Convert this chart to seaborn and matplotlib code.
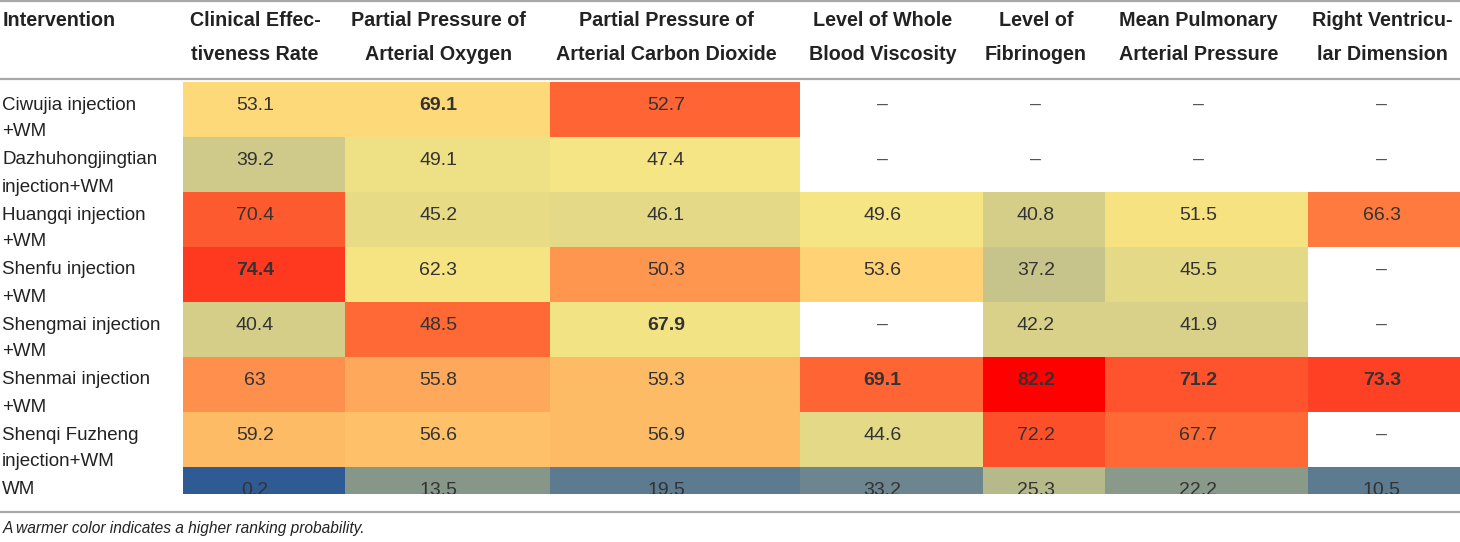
import numpy as np
import pandas as pd
import matplotlib
matplotlib.use("Agg")
import matplotlib.pyplot as plt
import seaborn as sns
from matplotlib.colors import LinearSegmentedColormap

nan = np.nan

# ---------------- data ----------------
interventions = [
    "Ciwujia injection\n+WM",
    "Dazhuhongjingtian\ninjection+WM",
    "Huangqi injection\n+WM",
    "Shenfu injection\n+WM",
    "Shengmai injection\n+WM",
    "Shenmai injection\n+WM",
    "Shenqi Fuzheng\ninjection+WM",
    "WM",
]
outcomes = [
    "Clinical Effec-\ntiveness Rate",
    "Partial Pressure of\nArterial Oxygen",
    "Partial Pressure of\nArterial Carbon Dioxide",
    "Level of Whole\nBlood Viscosity",
    "Level of\nFibrinogen",
    "Mean Pulmonary\nArterial Pressure",
    "Right Ventricu-\nlar Dimension",
]
clinical = [53.1, 39.2, 70.4, 74.4, 40.4, 63, 59.2, 0.2]
pao2 = [69.1, 49.1, 45.2, 62.3, 48.5, 55.8, 56.6, 13.5]
paco2 = [52.7, 47.4, 46.1, 50.3, 67.9, 59.3, 56.9, 19.5]
viscosity = [nan, nan, 49.6, 53.6, nan, 69.1, 44.6, 33.2]
fibrinogen = [nan, nan, 40.8, 37.2, 42.2, 82.2, 72.2, 25.3]
mpap = [nan, nan, 51.5, 45.5, 41.9, 71.2, 67.7, 22.2]
rvd = [nan, nan, 66.3, nan, nan, 73.3, nan, 10.5]

# colour warmth of each cell (0 = coolest, 100 = warmest)
warm_clinical = [62, 44, 89, 94, 46, 79, 70, 0]
warm_pao2 = [62, 53, 51, 56, 86, 74, 69, 25]
warm_paco2 = [87, 55, 50, 78, 54, 70, 70, 15]
warm_viscosity = [nan, nan, 55, 64, nan, 87, 50, 19]
warm_fibrinogen = [nan, nan, 46, 41, 47, 100, 91, 35]
warm_mpap = [nan, nan, 57, 50, 47, 90, 86, 26]
warm_rvd = [nan, nan, 83, nan, nan, 93, nan, 15]

caption = "A warmer color indicates a higher ranking probability."

values = pd.DataFrame(dict(zip(outcomes, [clinical, pao2, paco2, viscosity, fibrinogen, mpap, rvd])),
                      index=interventions)
warmth = pd.DataFrame(dict(zip(outcomes, [warm_clinical, warm_pao2, warm_paco2, warm_viscosity,
                                          warm_fibrinogen, warm_mpap, warm_rvd])),
                      index=interventions)

# ---------------- style ----------------
sns.set_theme(style="white")
plt.rcParams["font.family"] = ["Liberation Sans", "DejaVu Sans"]

cmap = LinearSegmentedColormap.from_list("warm", [
    (0.00, "#2f5b94"),
    (0.15, "#5c7a90"),
    (0.25, "#86978a"),
    (0.35, "#b6b98a"),
    (0.45, "#d2cc8a"),
    (0.55, "#f5e584"),
    (0.62, "#fed97a"),
    (0.70, "#febc66"),
    (0.78, "#fe9650"),
    (0.86, "#fe6a36"),
    (0.93, "#fe4426"),
    (1.00, "#ff0000"),
])

W, H = 1460, 542
fig = plt.figure(figsize=(W / 100, H / 100), dpi=100)

col_edges = [183, 345, 550, 800, 983, 1105, 1308, 1460]
text_shift = [9, 9, 9, 9, 8, 8, 2]  # text sits slightly left of the cell centre
table_top, row_h, table_bottom = 82, 55, 494
visible_rows = (table_bottom - table_top) / row_h
fs_head, fs_num, fs_lab, fs_cap = 14.2, 14, 13.5, 11.2
txt_color = "#333333"
lab_color = "#222222"

for j, col in enumerate(outcomes):
    x0, x1 = col_edges[j], col_edges[j + 1]
    ax = fig.add_axes([x0 / W, 1 - table_bottom / H, (x1 - x0) / W, (table_bottom - table_top) / H])
    data = warmth[[col]]
    sns.heatmap(data, mask=data.isna(), cmap=cmap, vmin=0, vmax=100, cbar=False, ax=ax,
                xticklabels=False, yticklabels=False, linewidths=0)
    ax.set_ylim(visible_rows, 0)
    ax.set_xlim(0, 1)
    for s in ax.spines.values():
        s.set_visible(False)
    vals = values[col]
    vmax = vals.max()
    xc = 0.5 - text_shift[j] / (x1 - x0)
    for i, v in enumerate(vals):
        if np.isnan(v):
            ax.text(xc, i + 0.41, "–", ha="center", va="center", fontsize=fs_num, color="#555555")
        else:
            ax.text(xc, i + 0.42, f"{v:g}", ha="center", va="center", fontsize=fs_num, color=txt_color,
                    fontweight="bold" if v == vmax else "normal", clip_on=True)
    # header
    hx = ((x0 + x1) / 2 - text_shift[j]) / W
    l1, l2 = col.split("\n")
    fig.text(hx, 1 - 21 / H, l1, ha="center", va="center", fontsize=fs_head, fontweight="bold", color=lab_color)
    fig.text(hx, 1 - 54 / H, l2, ha="center", va="center", fontsize=fs_head, fontweight="bold", color=lab_color)

fig.text(3 / W, 1 - 21 / H, "Intervention", ha="left", va="center", fontsize=fs_head, fontweight="bold",
         color=lab_color)

for i, lab in enumerate(interventions):
    for k, line in enumerate(lab.split("\n")):
        y = table_top + i * row_h + 23 + k * 27
        fig.text(2 / W, 1 - y / H, line, ha="left", va="center", fontsize=fs_lab, color=lab_color)

# rules
for y in (1, 79, 512):
    fig.add_artist(plt.Line2D([0, 1], [1 - y / H, 1 - y / H], color="#a8a8a8", lw=1.6,
                              transform=fig.transFigure))

fig.text(3 / W, 1 - 528 / H, caption, ha="left", va="center", fontsize=fs_cap, style="italic", color=lab_color)

fig.savefig("out.png", dpi=100)
